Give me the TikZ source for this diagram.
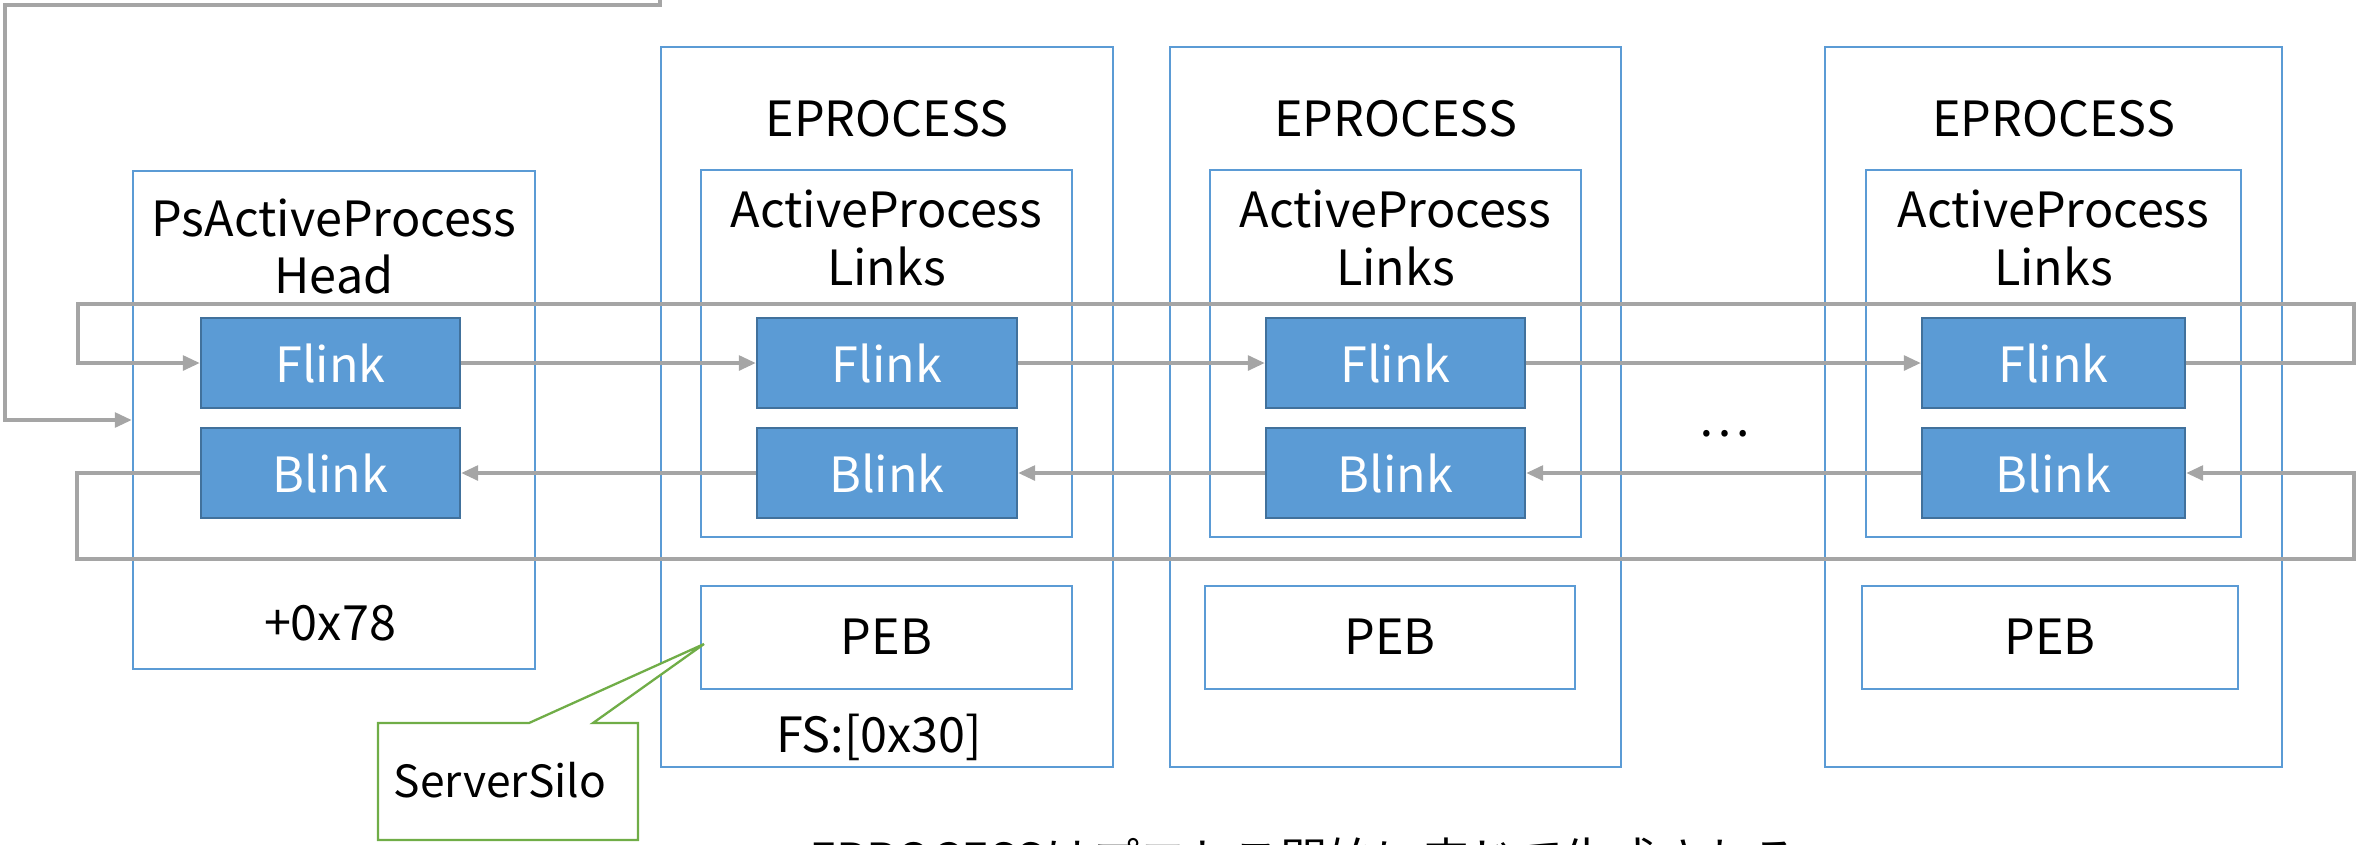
\documentclass[tikz,border=0pt]{standalone}
\usepackage{fontspec}
\setmainfont{Noto Sans CJK JP}
\usetikzlibrary{arrows.meta}
\definecolor{boxblue}{HTML}{5B9BD5}
\definecolor{darkblue}{HTML}{41719C}
\definecolor{linegray}{HTML}{A5A5A5}
\definecolor{callgreen}{HTML}{70AD47}
\tikzset{
  frame/.style={draw=boxblue, line width=0.65pt, rectangle, inner sep=0pt},
  linkbox/.style={draw=darkblue, fill=boxblue, line width=0.65pt, rectangle, inner sep=0pt,
    minimum height=0.9cm, text=white, font=\fontsize{13.8}{16}\selectfont},
  lbl/.style={inner sep=0pt, anchor=base, font=\fontsize{13.8}{16}\selectfont},
  conn/.style={draw=linegray, line width=0.95pt},
  arr/.style={conn, -{Triangle[length=4.8pt,width=4.2pt]}},
}
\begin{document}
\begin{tikzpicture}[x=0.01cm,y=-0.01cm]
\useasboundingbox (0,0) rectangle (2356,844);

% Head
\node[frame, minimum width=4.02cm, minimum height=4.98cm] (head) at (334,420) {};
\node[lbl] (headt1) at (334,236) {PsActiveProcess};
\node[lbl] (headt2) at (334,293) {Head};
\node[linkbox, minimum width=2.59cm] (hf) at (330.5,363) {Flink};
\node[linkbox, minimum width=2.59cm] (hb) at (330.5,473) {Blink};
\node[lbl] (hoff) at (330,640) {+0x78};

% EP1
\node[frame, minimum width=4.52cm, minimum height=7.20cm] (ep1) at (887,407) {};
\node[lbl] (ep1t) at (887,136) {EPROCESS};
\node[frame, minimum width=3.71cm, minimum height=3.67cm] (in1) at (886.5,353.5) {};
\node[lbl] (in1a) at (886.5,227) {ActiveProcess};
\node[lbl] (in1b) at (886.5,285) {Links};
\node[linkbox, minimum width=2.60cm] (f1) at (887,363) {Flink};
\node[linkbox, minimum width=2.60cm] (b1) at (887,473) {Blink};
\node[frame, minimum width=3.71cm, minimum height=1.03cm] (peb1) at (886.5,637.5) {};
\node[lbl] (peb1t) at (886.5,654) {PEB};
\node[lbl] (fs) at (879,752) {FS:[0x30]};

% EP2
\node[frame, minimum width=4.51cm, minimum height=7.20cm] (ep2) at (1395.5,407) {};
\node[lbl] (ep2t) at (1395.5,136) {EPROCESS};
\node[frame, minimum width=3.71cm, minimum height=3.67cm] (in2) at (1395.5,353.5) {};
\node[lbl] (in2a) at (1395.5,227) {ActiveProcess};
\node[lbl] (in2b) at (1395.5,285) {Links};
\node[linkbox, minimum width=2.59cm] (f2) at (1395.5,363) {Flink};
\node[linkbox, minimum width=2.59cm] (b2) at (1395.5,473) {Blink};
\node[frame, minimum width=3.70cm, minimum height=1.03cm] (peb2) at (1390,637.5) {};
\node[lbl] (peb2t) at (1390,654) {PEB};

% EP3
\node[frame, minimum width=4.57cm, minimum height=7.20cm] (ep3) at (2053.5,407) {};
\node[lbl] (ep3t) at (2053.5,136) {EPROCESS};
\node[frame, minimum width=3.75cm, minimum height=3.67cm] (in3) at (2053.5,353.5) {};
\node[lbl] (in3a) at (2053.5,227) {ActiveProcess};
\node[lbl] (in3b) at (2053.5,285) {Links};
\node[linkbox, minimum width=2.63cm] (f3) at (2053.5,363) {Flink};
\node[linkbox, minimum width=2.63cm] (b3) at (2053.5,473) {Blink};
\node[frame, minimum width=3.76cm, minimum height=1.03cm] (peb3) at (2050,637.5) {};
\node[lbl] (peb3t) at (2050,654) {PEB};

\node[inner sep=0pt, font=\fontsize{13.8}{16}\selectfont] (dots) at (1724,434) {…};

% forward links
\draw[arr] (hf) -- (f1);
\draw[arr] (f1) -- (f2);
\draw[arr] (f2) -- (f3);
\draw[arr] (f3.east) -- (2354,363) -- (2354,304) -- (78,304) -- (78,363) -- (hf.west);
% backward links
\draw[arr] (b1) -- (hb);
\draw[arr] (b2) -- (b1);
\draw[arr] (b3) -- (b2);
\draw[arr] (hb.west) -- (77,473) -- (77,559) -- (2354,559) -- (2354,473) -- (b3.east);
% incoming from above
\coordinate (above) at (660,-20);
\draw[arr] (above) -- (660,5) -- (5,5) -- (5,420) -- (head.west);

% callout
\coordinate (tip) at (704,644);
\draw[draw=callgreen, line width=0.65pt, fill=white] (378,723) -- (529,723) -- (tip) -- (593,723) -- (638,723) -- (638,840) -- (378,840) -- cycle;
\node[lbl, font=\fontsize{12.6}{15}\selectfont] (silo) at (500,797) {ServerSilo};

% bottom caption (cut off at the lower edge, as in the reference)
\node[lbl, font=\fontsize{13.4}{16}\selectfont] (cap) at (1304,877) {EPROCESSはプロセス開始に応じて生成される};
\end{tikzpicture}
\end{document}
